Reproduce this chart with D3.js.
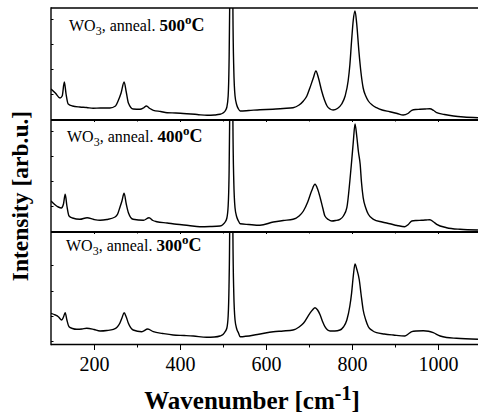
<!DOCTYPE html>
<html>
<head>
<meta charset="utf-8">
<script src="https://cdn.jsdelivr.net/npm/d3@7"></script>
<style>
  html, body { margin: 0; padding: 0; background: #fff; }
  svg { display: block; }
  text { font-family: "Liberation Serif", "Times New Roman", serif; fill: #000; }
</style>
</head>
<body>
<div id="chart"></div>
<script>
// ---------------- DATA ----------------
const xTicks = [200, 400, 600, 800, 1000];
const xMinorTicks = [300, 500, 700, 900];
const xDomain = [100, 1100];

const panelLabels = ["500", "400", "300"];

// WO3 annealed 500 C (intensity, arb. u.)
const wn500 = [100,110,121,126,131,135,140,150,167,183,198,215,237,250,256,263,270,275,280,291,307,315,322,330,338,355,370,390,416,440,463,480,493,500,505,509,512,514,515.5,517,519.3,521.5,523,525,528,532,536,540,560,586,616,640,663,677,687,695,702,710,716,722,729.5,736,742,749,756,766,776,784,791,795,799,803,807,811,816,821,826,832,838,847,857,870,888,905,919,930,939,948,958,970,981,990,997,1015,1036,1060,1093];
const int500 = [31,27,22,24,38,26,16,14,13,12.5,11.7,12,12,14,19,27,38,28,17,11,10.7,12,14,11.5,9.7,8.5,7.3,7,6.3,5.5,4.7,5,5.7,7,9,13,24,55,112,260,700,260,112,52,24,15,11,9,9.5,10.3,10.7,11.5,12.3,15,19,24,32,42,49,42,29,20,14,11,10,11.5,16,24,39,55,79,100,109,96,69,47,32,24,19,15,12.3,10,8.3,6.5,5,6.5,9.7,10.5,10.7,11,11.3,9.5,7.3,5.5,4,3,2.3];

// WO3 annealed 400 C
const wn400 = [100,110,117,124,129,133,137,142,150,167,184,200,214,230,249,255,260,265,270,275,280,291,315,328,337,346,370,392,420,446,470,493,500,505,509,512,514,515.5,517,519.3,521.5,523,525,528,532,536,540,560,586,617,640,663,677,687,697,706,714,720,726,732,737,745,753,762,772,780,788,795,799,803,807,811,815,819,822,826,832,838,850,870,888,905,923,931,939,950,962,972,981,990,997,1020,1051,1093];
const int400 = [31,27,25,24,28,37.7,26,16,14,12.7,14.3,12.5,11.7,12.5,15,18,24.3,31,38.7,28,19.3,12.7,11.7,14.3,11.5,10.3,9,7.7,6.5,5.3,5.5,6,7.5,10,14,26,55,112,260,700,260,112,52,24,15,11,8.3,7.5,6.7,10,11.5,12.7,16,21,30,41,47.7,43,34.3,24,16,12.5,11,11.5,12.7,16,24.3,51,70,90,108,96,80,67.7,50,34.3,24,17.7,12.7,10,8.3,6.5,5.3,7.5,11,11.5,11.7,12,12.3,10,7.7,4.3,2.7,2];

// WO3 annealed 300 C
const wn300 = [100,110,117,125,129,133,137,142,150,160,172,183,200,214,230,245,253,260,265,270,275,280,291,311,325,338,360,384,410,431,462,480,493,500,505,509,512,514,515.5,517,519.3,521.5,523,525,528,532,536,540,580,617,640,663,677,687,702,708,714,720,726,732,737,749,760,772,780,788,795,799,803,807,811,817,821,826,832,838,847,857,875,896,923,931,939,950,966,978,989,1005,1020,1043,1093];
const int300 = [30.7,29,27.3,24,27,31.3,24,17.3,15.5,14.7,15,15.7,14.5,13,13.5,14.7,16.5,20.7,26,31.3,27,20.7,14,12.3,15,12.3,10.5,9,8.5,8,6.7,7,8,9.5,12.3,16,28,58,112,260,700,260,112,52,24,15,11,7.3,9.5,12.3,13,14,17,20.7,30.7,34,36.3,34,29,22,17.3,13,13,14,17,24,38,50.7,68,80,75,64,50,34,24,17.3,13.5,11.3,10,9,8,10,12.3,13,13.3,12.8,11.3,8,6.5,5.7,4.7];

const yTicksPanels = [[26, 51, 76, 101], [26, 51, 76, 101], [3, 28, 53, 79]];
const yDomain = [0, 112];

// ---------------- LAYOUT ----------------
const W = 478, H = 414;
const left = 51, right = 481;
const panelTops = [8, 120, 232];
const panelH = 112;
const series = [
  { wn: wn500, inten: int500, label: panelLabels[0], lx: 69, ly: 31 },
  { wn: wn400, inten: int400, label: panelLabels[1], lx: 67, ly: 142 },
  { wn: wn300, inten: int300, label: panelLabels[2], lx: 66, ly: 251 }
];

const svg = d3.select("#chart").append("svg")
  .attr("width", W).attr("height", H)
  .attr("viewBox", `0 0 ${W} ${H}`);
svg.append("rect").attr("width", W).attr("height", H).attr("fill", "#fff");

const x = d3.scaleLinear().domain(xDomain).range([left, right]);

series.forEach((s, i) => {
  const top = panelTops[i];
  const bottom = top + panelH;
  const y = d3.scaleLinear().domain(yDomain).range([bottom, top]);
  const g = svg.append("g");

  const clipId = "clip" + i;
  svg.append("clipPath").attr("id", clipId)
    .append("rect").attr("x", left).attr("y", top).attr("width", right - left).attr("height", panelH);

  const data = s.wn.map((w, k) => [w, s.inten[k]]);
  const line = d3.line().x(d => x(d[0])).y(d => y(d[1])).curve(d3.curveMonotoneX);
  g.append("path").datum(data)
    .attr("clip-path", `url(#${clipId})`)
    .attr("fill", "none").attr("stroke", "#000").attr("stroke-width", 1.4)
    .attr("stroke-linejoin", "round")
    .attr("d", line);

  // left axis with inward small ticks
  const yAxis = d3.axisRight(y).tickValues(yTicksPanels[i]).tickSize(2.5).tickFormat("");
  const ya = g.append("g").attr("transform", `translate(${left},0)`).call(yAxis);
  ya.select(".domain").remove();
  ya.selectAll("line").attr("stroke", "#000").attr("stroke-width", 1);

  // bottom axis of panel
  const xAxis = d3.axisBottom(x).tickValues(xTicks).tickSize(i === 2 ? 6 : 2).tickFormat(i === 2 ? d3.format("d") : "");
  const xa = g.append("g").attr("transform", `translate(0,${bottom})`).call(xAxis);
  xa.select(".domain").remove();
  xa.selectAll(".tick line").attr("stroke", "#000").attr("stroke-width", 1);
  xa.selectAll("text").attr("font-size", 20).attr("dy", 0).attr("y", 27)
    .style("font-family", '"Liberation Serif", serif');
  const xMinor = d3.axisBottom(x).tickValues(xMinorTicks).tickSize(i === 2 ? 3.5 : 1.5).tickFormat("");
  const xm = g.append("g").attr("transform", `translate(0,${bottom})`).call(xMinor);
  xm.select(".domain").remove();
  xm.selectAll(".tick line").attr("stroke", "#000").attr("stroke-width", 1);

  // label
  const t = g.append("text").attr("x", s.lx).attr("y", s.ly).attr("font-size", 16);
  t.append("tspan").text("WO");
  t.append("tspan").attr("font-size", 12).attr("dy", 4).text("3");
  t.append("tspan").attr("dy", -4).text(", anneal. ");
  t.append("tspan").attr("font-weight", "bold").attr("font-size", 17).text(s.label);
  t.append("tspan").attr("font-weight", "bold").attr("font-size", 13).attr("dy", -7).text("o");
  t.append("tspan").attr("font-weight", "bold").attr("font-size", 18).attr("dy", 7).text("C");
});

// frame lines
svg.append("line").attr("x1", left).attr("x2", W).attr("y1", 8).attr("y2", 8)
  .attr("stroke", "#000").attr("stroke-width", 1.4);
[120, 232].forEach(yy => {
  svg.append("line").attr("x1", left).attr("x2", W).attr("y1", yy).attr("y2", yy)
    .attr("stroke", "#000").attr("stroke-width", 2);
});
svg.append("line").attr("x1", left).attr("x2", W).attr("y1", 344.5).attr("y2", 344.5)
  .attr("stroke", "#000").attr("stroke-width", 1.4);
svg.append("line").attr("x1", left).attr("x2", left).attr("y1", 7.3).attr("y2", 345.2)
  .attr("stroke", "#000").attr("stroke-width", 1.4);

// axis titles
const xt = svg.append("text").attr("x", 252).attr("y", 409).attr("text-anchor", "middle")
  .attr("font-size", 25).attr("font-weight", "bold");
xt.append("tspan").text("Wavenumber [cm");
xt.append("tspan").attr("font-size", 20).attr("dy", -9).text("-1");
xt.append("tspan").attr("dy", 9).text("]");

svg.append("text").attr("transform", "translate(28,196) rotate(-90)")
  .attr("text-anchor", "middle").attr("font-size", 23.5).attr("font-weight", "bold")
  .text("Intensity [arb.u.]");
</script>
</body>
</html>
